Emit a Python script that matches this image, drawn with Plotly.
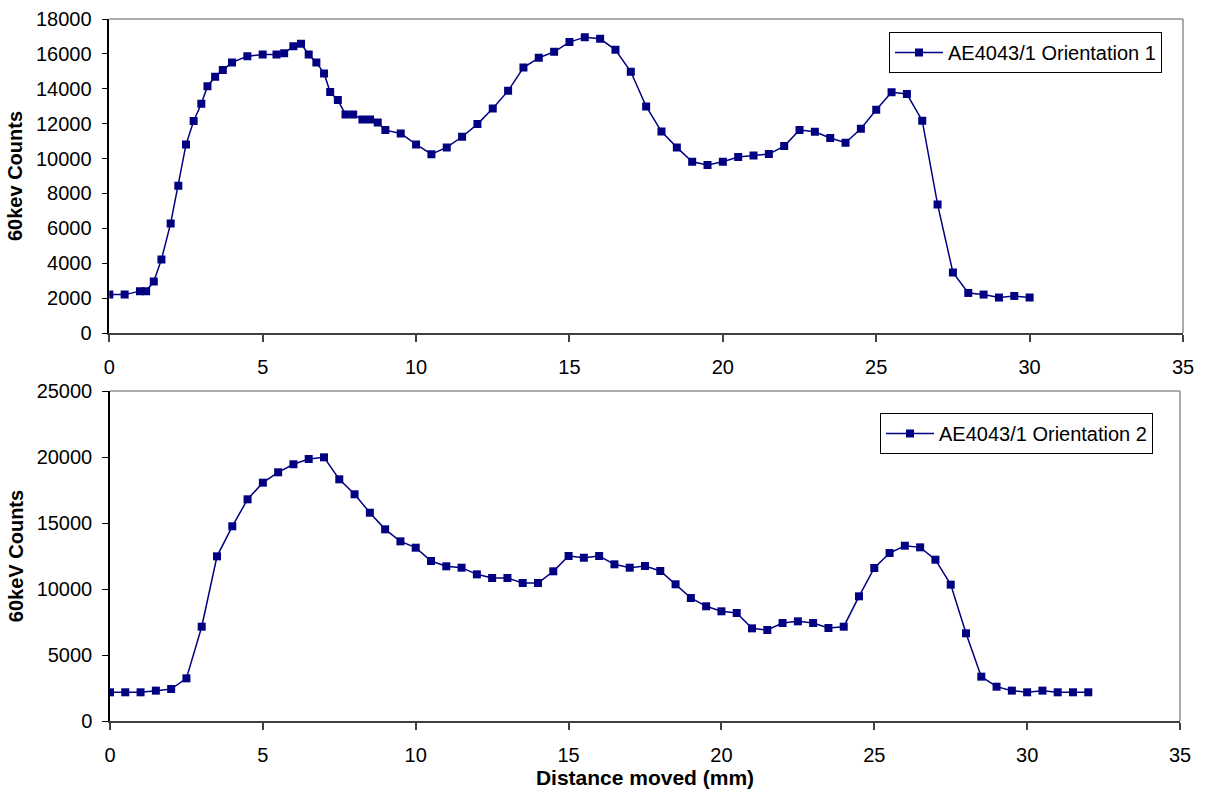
import plotly.graph_objects as go

# Orientation 1 (top chart)
x1 = [0, 0.5, 1.0, 1.2, 1.45, 1.7, 2.0, 2.25, 2.5, 2.75, 3.0, 3.2, 3.45, 3.7, 4.0, 4.5,
      5.0, 5.45, 5.7, 6.0, 6.25, 6.5, 6.75, 7.0, 7.2, 7.45, 7.7, 7.95, 8.25, 8.5, 8.75,
      9.0, 9.5, 10.0, 10.5, 11.0, 11.5, 12.0, 12.5, 13.0, 13.5, 14.0, 14.5, 15.0, 15.5,
      16.0, 16.5, 17.0, 17.5, 18.0, 18.5, 19.0, 19.5, 20.0, 20.5, 21.0, 21.5, 22.0, 22.5,
      23.0, 23.5, 24.0, 24.5, 25.0, 25.5, 26.0, 26.5, 27.0, 27.5, 28.0, 28.5, 29.0, 29.5, 30.0]
y1 = [2200, 2200, 2400, 2400, 2950, 4220, 6280, 8440, 10800, 12150, 13140, 14150, 14690,
      15070, 15510, 15870, 15970, 15970, 16030, 16440, 16580, 15970, 15510, 14880, 13810,
      13350, 12530, 12530, 12245, 12245, 12070, 11630, 11440, 10810, 10250, 10640, 11250,
      11975, 12875, 13880, 15220, 15775, 16120, 16675, 16960, 16865, 16235, 14975, 12990,
      11550, 10640, 9815, 9625, 9815, 10085, 10180, 10257, 10717, 11635, 11540, 11175,
      10905, 11710, 12800, 13800, 13700, 12170, 7370, 3467, 2296, 2204, 2032, 2124, 2032]

# Orientation 2 (bottom chart)
x2 = [0, 0.5, 1.0, 1.5, 2.0, 2.5, 3.0, 3.5, 4.0, 4.5, 5.0, 5.5, 6.0, 6.5, 7.0, 7.5, 8.0,
      8.5, 9.0, 9.5, 10.0, 10.5, 11.0, 11.5, 12.0, 12.5, 13.0, 13.5, 14.0, 14.5, 15.0,
      15.5, 16.0, 16.5, 17.0, 17.5, 18.0, 18.5, 19.0, 19.5, 20.0, 20.5, 21.0, 21.5, 22.0,
      22.5, 23.0, 23.5, 24.0, 24.5, 25.0, 25.5, 26.0, 26.5, 27.0, 27.5, 28.0, 28.5, 29.0,
      29.5, 30.0, 30.5, 31.0, 31.5, 32.0]
y2 = [2174, 2174, 2174, 2300, 2424, 3232, 7145, 12475, 14750, 16795, 18055, 18840, 19450,
      19850, 19975, 18310, 17175, 15780, 14520, 13610, 13130, 12120, 11720, 11615, 11110,
      10835, 10835, 10455, 10455, 11340, 12500, 12370, 12500, 11870, 11615, 11740, 11365,
      10355, 9320, 8690, 8310, 8180, 7020, 6895, 7425, 7550, 7425, 7045, 7145, 9445, 11590,
      12725, 13280, 13155, 12220, 10330, 6645, 3360, 2600, 2300, 2174, 2300, 2174, 2174, 2174]

name1 = "AE4043/1 Orientation 1"
name2 = "AE4043/1 Orientation 2"
xticks = [0, 5, 10, 15, 20, 25, 30, 35]
yticks1 = [0, 2000, 4000, 6000, 8000, 10000, 12000, 14000, 16000, 18000]
yticks2 = [0, 5000, 10000, 15000, 20000, 25000]

NAVY = "#000080"
FONT = "Arial, Liberation Sans, sans-serif"
W, H = 1207, 794

fig = go.Figure()
fig.add_trace(go.Scatter(x=x1, y=y1, mode="lines+markers", name=name1,
                         line=dict(color=NAVY, width=1.5),
                         marker=dict(symbol="square", size=8, color=NAVY),
                         xaxis="x", yaxis="y", legend="legend"))
fig.add_trace(go.Scatter(x=x2, y=y2, mode="lines+markers", name=name2,
                         line=dict(color=NAVY, width=1.5),
                         marker=dict(symbol="square", size=8, color=NAVY),
                         xaxis="x2", yaxis="y2", legend="legend2"))

def xax(domain, anchor, title=None):
    d = dict(domain=domain, anchor=anchor, range=[0, 35], tickvals=xticks,
             ticks="outside", ticklen=7, tickcolor="#404040", tickwidth=1.5,
             showline=True, linecolor="#404040", linewidth=2, showgrid=False,
             zeroline=False, tickfont=dict(family=FONT, size=20, color="black"),
             ticklabelstandoff=8, automargin=False)
    if title:
        d["title"] = dict(text=title, font=dict(family=FONT, size=21, color="black"), standoff=2)
    return d

def yax(domain, anchor, rng, ticks, title):
    return dict(domain=domain, anchor=anchor, range=rng, tickvals=ticks, tickformat="d",
                ticks="outside", ticklen=6, tickcolor="black", tickwidth=1.2,
                showline=True, linecolor="black", linewidth=1.5, showgrid=False,
                zeroline=False, tickfont=dict(family=FONT, size=20, color="black"),
                ticklabelstandoff=6, automargin=False,
                title=dict(text=title, font=dict(family=FONT, size=20, color="black"), standoff=8))

top_x = [109.3 / W, 1183 / W]
top_y = [1 - 333 / H, 1 - 19 / H]
bot_x = [110 / W, 1180 / W]
bot_y = [1 - 721 / H, 1 - 391 / H]

fig.update_layout(
    width=W, height=H,
    margin=dict(l=0, r=0, t=0, b=0),
    paper_bgcolor="white", plot_bgcolor="white",
    font=dict(family=FONT, color="black"),
    xaxis=xax(top_x, "y"),
    yaxis=yax(top_y, "x", [0, 18000], yticks1, "<b>60kev Counts</b>"),
    xaxis2=xax(bot_x, "y2", "<b>Distance moved (mm)</b>"),
    yaxis2=yax(bot_y, "x2", [0, 25000], yticks2, "<b>60keV Counts</b>"),
    legend=dict(x=1162 / W, y=1 - 32 / H, xanchor="right", yanchor="top",
                bordercolor="black", borderwidth=1, bgcolor="white",
                font=dict(family=FONT, size=20, color="black"), itemwidth=48),
    legend2=dict(x=1153 / W, y=1 - 413 / H, xanchor="right", yanchor="top",
                 bordercolor="black", borderwidth=1, bgcolor="white",
                 font=dict(family=FONT, size=20, color="black"), itemwidth=48),
    showlegend=True,
)

# gray top/right frame lines
for xr, yr in (("x domain", "y domain"), ("x2 domain", "y2 domain")):
    fig.add_shape(type="line", xref=xr, yref=yr, x0=0, x1=1, y0=1, y1=1,
                  line=dict(color="#909090", width=1.5))
    fig.add_shape(type="line", xref=xr, yref=yr, x0=1, x1=1, y0=0, y1=1,
                  line=dict(color="#909090", width=1.5))

fig.write_html("out.html", config={"displayModeBar": False},
               post_script="document.body.style.margin='0';document.body.style.overflow='hidden';")
